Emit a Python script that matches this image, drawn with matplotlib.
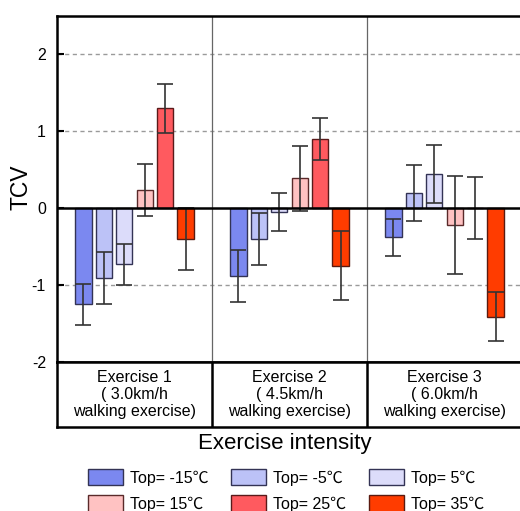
import numpy as np
import matplotlib
matplotlib.use('Agg')
import matplotlib.pyplot as plt

plt.rcParams['font.family'] = ['Liberation Sans', 'Noto Sans CJK SC']

# data (mean TCV and error per exercise)
exercises = ['Exercise 1\n( 3.0km/h\nwalking exercise)',
             'Exercise 2\n( 4.5km/h\nwalking exercise)',
             'Exercise 3\n( 6.0km/h\nwalking exercise)']
temps = ['Top= -15℃', 'Top= -5℃', 'Top= 5℃', 'Top= 15℃', 'Top= 25℃', 'Top= 35℃']

tcv_m15 = [-1.25, -0.88, -0.38]
err_m15 = [0.27, 0.34, 0.245]
tcv_m5 = [-0.91, -0.40, 0.20]
err_m5 = [0.34, 0.34, 0.365]
tcv_5 = [-0.73, -0.05, 0.445]
err_5 = [0.27, 0.25, 0.38]
tcv_15 = [0.24, 0.39, -0.22]
err_15 = [0.34, 0.42, 0.64]
tcv_25 = [1.30, 0.90, 0.0]
err_25 = [0.32, 0.27, 0.40]
tcv_35 = [-0.40, -0.75, -1.41]
err_35 = [0.40, 0.45, 0.32]

means = [tcv_m15, tcv_m5, tcv_5, tcv_15, tcv_25, tcv_35]
errs = [err_m15, err_m5, err_5, err_15, err_25, err_35]
colors = ['#7b88f0', '#bcc2f7', '#dcdcfa', '#ffc2c2', '#ff5a5f', '#ff3c00']
edges = ['#333355', '#333355', '#333355', '#5a2a2a', '#5a1a1a', '#5a1a10']

fig = plt.figure(figsize=(5.2, 5.11), dpi=100)
ax = fig.add_axes([57 / 520, 1 - 362 / 511, 465 / 520, 346 / 511])
box = fig.add_axes([57 / 520, 1 - 427 / 511, 465 / 520, 65 / 511])

centers = np.arange(3) + 0.5
step = 0.132
width = 0.106
handles = []
for i in range(6):
    xs = centers + (i - 2.5) * step
    b = ax.bar(xs, means[i], width=width, color=colors[i], edgecolor=edges[i],
               linewidth=1.0, zorder=3, label=temps[i])
    ax.errorbar(xs, means[i], yerr=errs[i], fmt='none', ecolor='#333333',
                elinewidth=1.2, capsize=5.8, capthick=1.2, zorder=4)
    handles.append(b)

ax.set_xlim(0, 3)
ax.set_ylim(-2, 2.5)
ax.set_yticks([-2, -1, 0, 1, 2])
ax.set_yticklabels(['-2', '-1', '0', '1', '2'])
ax.set_xticks([])
ax.tick_params(axis='y', direction='in', length=5, width=1.5, pad=8, labelsize=11.5)
for y in [-1, 1, 2]:
    ax.axhline(y, color='#9a9a9a', lw=1.0, ls=(0, (3, 2.5)), zorder=1)
ax.axhline(0, color='black', lw=1.8, zorder=5)
for x in [1, 2]:
    ax.axvline(x, color='#666666', lw=0.9, zorder=1)
for s in ['top', 'left', 'bottom']:
    ax.spines[s].set_linewidth(1.8)
ax.spines['right'].set_visible(False)
ax.set_ylabel('TCV', fontsize=16.5, va='center')
ax.yaxis.set_label_coords(-0.077, 0.504)

box.set_xlim(0, 3)
box.set_ylim(0, 1)
box.set_xticks([])
box.set_yticks([])
for s in box.spines.values():
    s.set_linewidth(1.8)
for x in [1, 2]:
    box.axvline(x, color='black', lw=1.8)
for c, lab in zip(centers, exercises):
    box.text(c, 0.5, lab, ha='center', va='center', fontsize=11.5, linespacing=1.15)

fig.text(285 / 520, 1 - 443 / 511, 'Exercise intensity', ha='center', va='center', fontsize=16)

# legend filled row by row like the original
order = [0, 3, 1, 4, 2, 5]
fig.legend(handles=[handles[k] for k in order], labels=[temps[k] for k in order],
           ncol=3, loc='upper center',
           bbox_to_anchor=(286 / 520, 1 - 469 / 511), frameon=False, fontsize=11.5,
           handlelength=2.2, handleheight=1.2, handletextpad=0.45,
           columnspacing=1.4, labelspacing=0.62, borderpad=0, borderaxespad=0)

fig.savefig('out.png', dpi=100)
